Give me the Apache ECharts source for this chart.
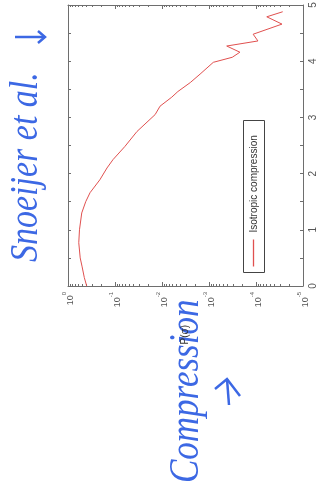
<!DOCTYPE html>
<html>
<head>
<meta charset="utf-8">
<style>
  html, body { margin: 0; padding: 0; background: #fff; }
  #chart { width: 324px; height: 495px; }
</style>
<script src="https://cdn.jsdelivr.net/npm/echarts@6/dist/echarts.min.js"></script>
</head>
<body>
<div id="chart"></div>
<script>
// Force values f and distribution P(σ), isotropic compression
const forceF = [0, 0.15, 0.34, 0.5, 0.77, 1.0, 1.3, 1.5, 1.66, 1.89, 2.1, 2.25, 2.48, 2.75, 3.05, 3.2, 3.36, 3.46, 3.62, 3.77, 3.98, 4.07, 4.16, 4.27, 4.36, 4.48, 4.66, 4.79, 4.88];
const probP = [0.40, 0.45, 0.50, 0.55, 0.59, 0.57, 0.51, 0.42, 0.34, 0.21, 0.148, 0.11, 0.062, 0.034, 0.014, 0.011, 0.0062, 0.0046, 0.0025, 0.00155, 0.00081, 0.00032, 0.00022, 0.00042, 0.000091, 0.000115, 0.000028, 0.000059, 0.000027];

// Axis ticks
const decadeTicks = [1, 0.1, 0.01, 0.001, 0.0001, 0.00001];
const forceTicks = [0, 0.5, 1, 1.5, 2, 2.5, 3, 3.5, 4, 4.5, 5];
const minorLogTicks = [];
for (let k = -5; k < 0; k++) {
  for (let m = 2; m <= 9; m++) minorLogTicks.push(m * Math.pow(10, k));
}

const seriesName = 'Isotropic compression';
const blue = '#3c68e4';
const red = '#e0504f';
const axisGray = '#6e6e6e';
const labelGray = '#555';

const chart = echarts.init(document.getElementById('chart'), null, { renderer: 'canvas' });

function logAxis(position, ticks, tickLen, withLine, withLabels) {
  return {
    type: 'log', logBase: 10, min: 0.00001, max: 1, inverse: true,
    position: position,
    axisLine: { show: withLine, lineStyle: { color: axisGray, width: 1 } },
    axisTick: { show: true, inside: true, length: tickLen, customValues: ticks, lineStyle: { color: axisGray } },
    axisLabel: withLabels ? {
      show: true, rotate: 90, margin: 6, color: labelGray,
      customValues: decadeTicks,
      formatter: function (v) {
        const e = Math.round(Math.log10(v));
        return '{b|10}{e|' + (e === 0 ? '0' : e) + '}';
      },
      rich: {
        b: { fontSize: 9, fontFamily: 'Liberation Sans', color: labelGray, lineHeight: 14, verticalAlign: 'bottom' },
        e: { fontSize: 6, fontFamily: 'Liberation Sans', color: labelGray, lineHeight: 14, verticalAlign: 'top' }
      }
    } : { show: false },
    splitLine: { show: false },
    minorTick: { show: false }
  };
}

function forceAxis(position, withLabels) {
  return {
    type: 'value', min: 0, max: 5, interval: 1,
    position: position,
    axisLine: { show: true, lineStyle: { color: axisGray, width: 1 } },
    axisTick: { show: true, inside: true, length: 3, customValues: forceTicks, lineStyle: { color: axisGray } },
    axisLabel: withLabels ? {
      show: true, rotate: 90, margin: 5, color: labelGray,
      fontSize: 10, fontFamily: 'Liberation Sans'
    } : { show: false },
    splitLine: { show: false }
  };
}

const xMain = logAxis('bottom', decadeTicks, 4, true, true);
xMain.name = 'P(σ)';
xMain.nameLocation = 'middle';
xMain.nameRotate = 90;
xMain.nameGap = 39;
xMain.nameTextStyle = { fontSize: 10, fontFamily: 'Liberation Sans', color: '#333' };

const yMain = forceAxis('right', true);
yMain.name = 'f';
yMain.nameLocation = 'middle';
yMain.nameRotate = 90;
yMain.nameGap = 26;
yMain.nameTextStyle = { fontSize: 9, fontFamily: 'Liberation Sans', color: '#333' };

const option = {
  animation: false,
  backgroundColor: '#ffffff',
  grid: { left: 68, right: 21, top: 5, bottom: 209, containLabel: false, outerBoundsMode: 'none' },
  xAxis: [
    xMain,
    logAxis('bottom', minorLogTicks, 2, false, false),
    logAxis('top', decadeTicks, 4, true, false),
    logAxis('top', minorLogTicks, 2, false, false)
  ],
  yAxis: [
    yMain,
    forceAxis('left', false)
  ],
  series: [{
    name: seriesName,
    type: 'line',
    xAxisIndex: 0, yAxisIndex: 0,
    data: forceF.map((f, i) => [probP[i], f]),
    showSymbol: false,
    smooth: false,
    lineStyle: { color: red, width: 1 },
    z: 3
  }],
  graphic: [
    // legend box, turned to read upward
    {
      type: 'group', x: 243.5, y: 272.5, rotation: Math.PI / 2,
      children: [
        { type: 'rect', shape: { x: 0, y: 0, width: 152, height: 21 },
          style: { fill: '#fff', stroke: '#444', lineWidth: 1 } },
        { type: 'line', shape: { x1: 6, y1: 10, x2: 33, y2: 10 },
          style: { stroke: red, lineWidth: 1.3 } },
        { type: 'text', x: 40, y: 10.5,
          style: { text: seriesName, fill: '#333', font: '10px "Liberation Sans"',
                   textAlign: 'left', textVerticalAlign: 'middle' } }
      ]
    },
    // annotations
    {
      type: 'text', x: 47, y: 262, rotation: Math.PI / 2, scaleY: 1.2,
      style: { text: 'Snoeijer et al.', fill: blue, font: 'italic 34px "Liberation Serif"',
               textAlign: 'left', textVerticalAlign: 'bottom' }
    },
    {
      type: 'text', x: 208, y: 483, rotation: Math.PI / 2, scaleY: 1.2,
      style: { text: 'Compression', fill: blue, font: 'italic 35px "Liberation Serif"',
               textAlign: 'left', textVerticalAlign: 'bottom' }
    },
    {
      type: 'polyline', shape: { points: [[15, 37], [45, 37]] },
      style: { stroke: blue, lineWidth: 2.5, fill: null }
    },
    {
      type: 'polyline', shape: { points: [[38, 31], [45, 37], [38, 43]] },
      style: { stroke: blue, lineWidth: 2.5, fill: null }
    },
    {
      type: 'polyline', shape: { points: [[227, 379], [229, 405]] },
      style: { stroke: blue, lineWidth: 2.5, fill: null }
    },
    {
      type: 'polyline', shape: { points: [[215, 389], [227, 379], [240, 396]] },
      style: { stroke: blue, lineWidth: 2.5, fill: null }
    }
  ]
};

chart.setOption(option);
</script>
</body>
</html>
